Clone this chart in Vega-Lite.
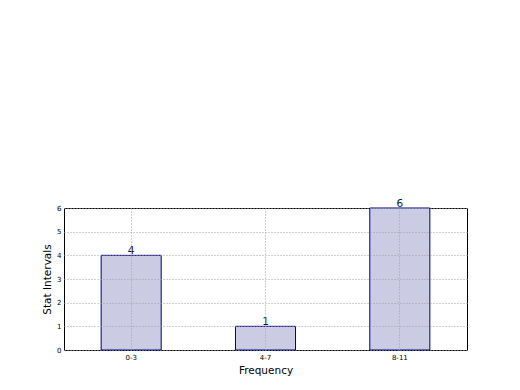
{
  "$schema": "https://vega.github.io/schema/vega-lite/v6.json",
  "autosize": {"type": "none"},
  "padding": {"left": 64, "top": 208, "right": 53, "bottom": 40},
  "width": 403,
  "height": 142,
  "background": "white",
  "config": {
    "font": "DejaVu Sans",
    "view": {"stroke": "black", "strokeWidth": 1},
    "axis": {"domain": false, "labelFont": "DejaVu Sans", "titleFont": "DejaVu Sans", "titleFontWeight": "normal", "labelColor": "black", "titleColor": "black", "labelOverlap": false, "labelFlush": false}
  },
  "data": {"values": [
    {"interval": "0-3", "count": 4},
    {"interval": "4-7", "count": 1},
    {"interval": "8-11", "count": 6}
  ]},
  "encoding": {
    "x": {"field": "interval", "type": "nominal", "sort": null,
      "scale": {"paddingInner": 0.553, "paddingOuter": 0.2765},
      "axis": {"title": "Frequency", "titleFontSize": 10.5, "titlePadding": 5, "labelAngle": 0, "labelFontSize": 7, "labelPadding": 3, "tickSize": 0, "grid": true, "gridDash": [1, 2], "gridColor": "#a0a0a0", "gridWidth": 1, "bandPosition": 0.5, "zindex": 1}},
    "y": {"field": "count", "type": "quantitative",
      "scale": {"domain": [0, 6], "nice": false},
      "axis": {"title": "Stat Intervals", "titleFontSize": 10.5, "titlePadding": 4, "labelFontSize": 7, "labelPadding": 3, "values": [0,1,2,3,4,5,6], "tickSize": 0, "grid": true, "gridDash": [1, 2], "gridColor": "#a0a0a0", "gridWidth": 1, "zindex": 1}}
  },
  "layer": [
    {"mark": {"type": "bar", "fill": "#cbcbe3", "stroke": "#000080", "strokeWidth": 1}},
    {"mark": {"type": "text", "baseline": "bottom", "dy": 1, "fontSize": 10.5, "color": "#14143c"},
     "encoding": {"text": {"field": "count", "type": "quantitative"}}}
  ]
}
